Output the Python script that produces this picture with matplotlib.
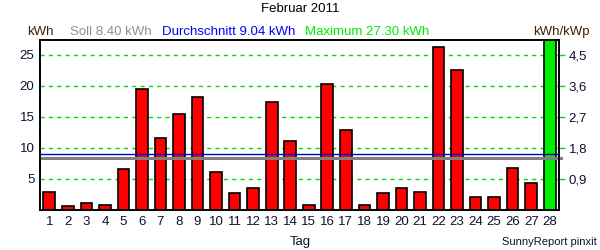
import numpy as np
import matplotlib
matplotlib.use('Agg')
import matplotlib.pyplot as plt

plt.rcParams['font.family'] = ['Liberation Sans', 'DejaVu Sans']

days = np.arange(1, 29)
kwh = [2.9, 0.5, 1.0, 0.8, 6.5, 19.5, 11.6, 15.5, 18.2, 6.1, 2.6, 3.4, 17.4, 11.1,
       0.8, 20.3, 12.9, 0.8, 2.7, 3.4, 2.9, 26.3, 22.5, 2.1, 2.1, 6.7, 4.35, 27.3]
soll = 8.40
mittel = 9.04
maximum = 27.30
kwp = 25 / 4.5
left_ticks = [5, 10, 15, 20, 25]
right_ticks = [0.9, 1.8, 2.7, 3.6, 4.5]

colors = ['red'] * len(kwh)
colors[int(np.argmax(kwh))] = '#00ee00'

fig = plt.figure(figsize=(6, 2.5), dpi=100)
ax = fig.add_axes([40/600, 1 - 209.5/250, 519/600, 169/250])

ax.bar(days, kwh, width=0.63, color=colors, edgecolor='black', linewidth=1.2, zorder=3)
for y in left_ticks:
    ax.axhline(y, color='#00dd00', linestyle=(0, (3, 3)), linewidth=1, zorder=1)
ax.axhline(soll, color='#808080', linewidth=2.2, zorder=4, xmax=1.004, clip_on=False)
ax.axhline(mittel, color='#0000cc', linewidth=1, zorder=4)

ax.set_xlim(0.5, 28.5)
ax.set_ylim(0, maximum)
ax.set_xticks(days)
ax.set_yticks(left_ticks)
ax.tick_params(axis='x', length=0, pad=5, labelsize=9.5, labelcolor='#101030')
ax.tick_params(axis='y', length=0, pad=4, labelsize=9.5, labelcolor='#101030')
for s in ax.spines.values():
    s.set_linewidth(1.2)

ax2 = ax.twinx()
ax2.set_ylim(0, maximum / kwp)
ax2.set_yticks(right_ticks)
ax2.set_yticklabels([f'{v:.1f}'.replace('.', ',') for v in right_ticks])
ax2.tick_params(axis='y', length=4, width=1, color='#00dd00', pad=3, labelsize=9.5,
                labelcolor='#101030')
for s in ax2.spines.values():
    s.set_linewidth(1.2)

fs = 9.5
fig.text(0.5, 1 - 9/250, 'Februar 2011', ha='center', va='center', fontsize=fs)
ht = 1 - 32/250
fig.text(27/600, ht, 'kWh', ha='left', va='center', fontsize=fs, color='#402000')
fig.text(70/600, ht, f'Soll {soll:.2f} kWh', ha='left', va='center', fontsize=fs, color='#909090')
fig.text(162/600, ht, f'Durchschnitt {mittel:.2f} kWh', ha='left', va='center', fontsize=fs,
         color='#0000ff')
fig.text(305/600, ht, f'Maximum {maximum:.2f} kWh', ha='left', va='center', fontsize=fs,
         color='#00ee00')
fig.text(590/600, ht, 'kWh/kWp', ha='right', va='center', fontsize=fs, color='#402000')
fig.text(300/600, 1 - 242/250, 'Tag', ha='center', va='center', fontsize=fs, color='#101030')
fig.text(597/600, 1 - 242/250, 'SunnyReport pinxit', ha='right', va='center', fontsize=8,
         color='#101030')

fig.savefig('out.png', dpi=100)
